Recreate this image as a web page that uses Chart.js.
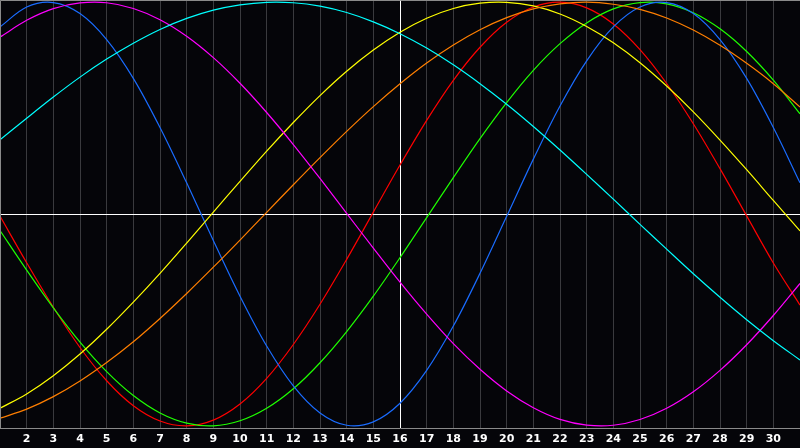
<!DOCTYPE html>
<html>
<head>
<meta charset="utf-8">
<script src="https://cdn.jsdelivr.net/npm/chart.js@4.4.1/dist/chart.umd.min.js"></script>
<style>
  html, body { margin: 0; padding: 0; background: #050509; }
  #wrap { width: 800px; height: 448px; }
</style>
</head>
<body>
<div id="wrap"><canvas id="cycles" width="800" height="448"></canvas></div>
<script>
// days of the month shown on the x axis
const days = [1, 2, 3, 4, 5, 6, 7, 8, 9, 10, 11, 12, 13, 14, 15, 16, 17, 18, 19, 20,
  21, 22, 23, 24, 25, 26, 27, 28, 29, 30, 31];
const markedDay = 16;

// values, one per day (-1 .. 1)
const red = [-0.01, -0.23, -0.44, -0.63, -0.787, -0.905, -0.977, -1.00, -0.973, -0.897,
  -0.776, -0.616, -0.426, -0.214, 0.009, 0.231, 0.442, 0.631, 0.787, 0.905,
  0.977, 1.00, 0.973, 0.897, 0.776, 0.616, 0.426, 0.214, -0.009, -0.231, -0.43];
const green = [-0.078, -0.265, -0.443, -0.605, -0.744, -0.857, -0.939, -0.987, -1.00, -0.976,
  -0.917, -0.825, -0.702, -0.555, -0.388, -0.206, -0.017, 0.172, 0.356, 0.526,
  0.678, 0.804, 0.902, 0.968, 0.998, 0.992, 0.950, 0.874, 0.767, 0.632, 0.473];
const blue = [0.883, 0.977, 0.998, 0.946, 0.823, 0.640, 0.408, 0.147, -0.125, -0.388,
  -0.623, -0.811, -0.939, -0.997, -0.981, -0.893, -0.738, -0.529, -0.280, -0.011,
  0.259, 0.510, 0.723, 0.883, 0.977, 0.998, 0.946, 0.823, 0.640, 0.408, 0.147];
const yellow = [-0.917, -0.849, -0.763, -0.661, -0.544, -0.416, -0.280, -0.137, 0.009, 0.154,
  0.297, 0.432, 0.559, 0.674, 0.774, 0.858, 0.924, 0.970, 0.995, 0.999,
  0.982, 0.944, 0.885, 0.808, 0.714, 0.604, 0.482, 0.349, 0.209, 0.064, -0.08];
const orange = [-0.964, -0.921, -0.862, -0.788, -0.701, -0.603, -0.493, -0.375, -0.251, -0.123,
  0.008, 0.138, 0.266, 0.390, 0.507, 0.615, 0.713, 0.798, 0.870, 0.927,
  0.968, 0.992, 1.00, 0.990, 0.966, 0.925, 0.868, 0.796, 0.711, 0.615, 0.505];
const magenta = [0.835, 0.914, 0.969, 0.996, 0.997, 0.970, 0.917, 0.839, 0.738, 0.617,
  0.479, 0.328, 0.168, 0.003, -0.161, -0.322, -0.473, -0.612, -0.733, -0.835,
  -0.914, -0.969, -0.996, -0.997, -0.970, -0.917, -0.839, -0.738, -0.617, -0.479, -0.328];
const cyan = [0.35, 0.452, 0.552, 0.646, 0.731, 0.806, 0.871, 0.923, 0.962, 0.987,
  0.999, 0.997, 0.981, 0.951, 0.907, 0.851, 0.783, 0.704, 0.615, 0.518,
  0.413, 0.302, 0.187, 0.070, -0.049, -0.166, -0.282, -0.393, -0.499, -0.598, -0.689];

const seriesColors = {
  red: '#ff0000',
  green: '#1eff00',
  blue: '#1a6cff',
  yellow: '#ffff00',
  orange: '#ff7f00',
  magenta: '#ff00ff',
  cyan: '#00ffff'
};

function makeSet(name, values) {
  return {
    label: name,
    data: values.map((v, i) => ({ x: days[i], y: v })),
    borderColor: seriesColors[name],
    borderWidth: 1.2,
    pointRadius: 0,
    fill: false,
    tension: 0.33
  };
}

// paints the background and the grey frame on top / left
const framePlugin = {
  id: 'frame',
  beforeDraw(chart) {
    const c = chart.ctx;
    c.save();
    c.fillStyle = '#050509';
    c.fillRect(0, 0, chart.width, chart.height);
    c.restore();
  },
  afterDraw(chart) {
    const c = chart.ctx;
    const a = chart.chartArea;
    c.save();
    c.strokeStyle = '#8a8a8a';
    c.lineWidth = 1;
    c.beginPath();
    c.moveTo(a.left + 0.5, a.bottom);
    c.lineTo(a.left + 0.5, a.top + 0.5);
    c.lineTo(a.right, a.top + 0.5);
    c.stroke();
    c.restore();
  }
};

new Chart(document.getElementById('cycles'), {
  type: 'line',
  data: {
    datasets: [
      makeSet('cyan', cyan),
      makeSet('magenta', magenta),
      makeSet('orange', orange),
      makeSet('yellow', yellow),
      makeSet('blue', blue),
      makeSet('green', green),
      makeSet('red', red)
    ]
  },
  options: {
    responsive: false,
    animation: false,
    layout: { padding: 0 },
    plugins: {
      legend: { display: false },
      tooltip: { enabled: false }
    },
    scales: {
      x: {
        type: 'linear',
        min: 1,
        max: 31,
        afterFit: (scale) => {
          scale.height = 20;
          scale.paddingLeft = 0;
          scale.paddingRight = 0;
        },
        grid: {
          drawTicks: false,
          color: (ctx) => (ctx.tick && ctx.tick.value === markedDay ? '#ffffff' : '#3a3a3e'),
          lineWidth: 1
        },
        border: { display: true, color: '#8a8a8a' },
        ticks: {
          stepSize: 1,
          autoSkip: false,
          maxRotation: 0,
          padding: 5,
          color: '#ffffff',
          font: { family: 'DejaVu Sans', size: 11, weight: 'bold' },
          callback: (v) => (v === days[0] || v === days[days.length - 1] ? '' : v)
        }
      },
      y: {
        min: -1.01,
        max: 1.01,
        afterFit: (scale) => {
          scale.width = 0;
          scale.paddingTop = 0;
          scale.paddingBottom = 0;
        },
        afterBuildTicks: (scale) => { scale.ticks = [{ value: 0 }]; },
        grid: { drawTicks: false, color: '#ffffff', lineWidth: 1 },
        border: { display: false },
        ticks: { display: false }
      }
    }
  },
  plugins: [framePlugin]
});
</script>
</body>
</html>
